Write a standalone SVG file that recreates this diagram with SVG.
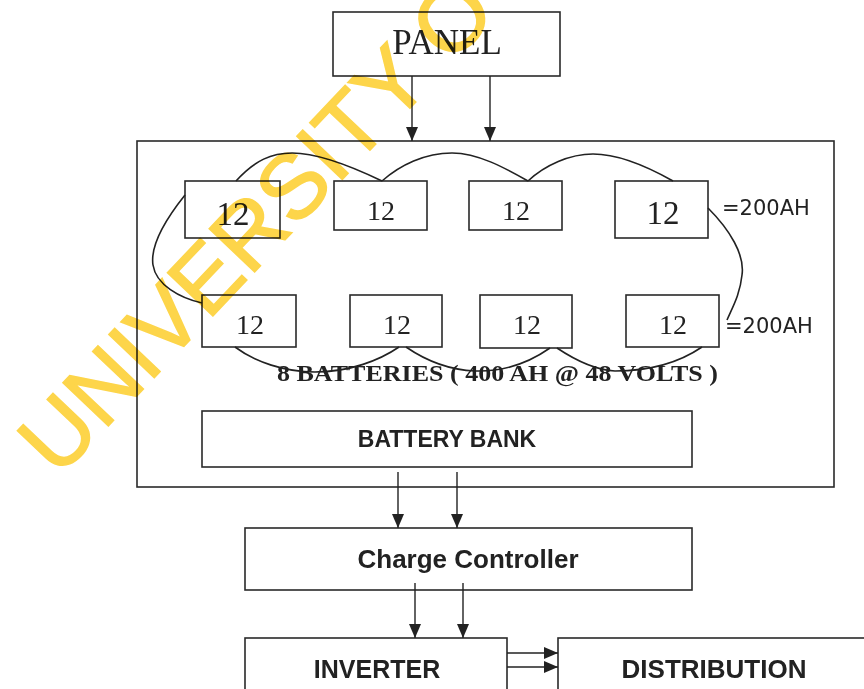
<svg xmlns="http://www.w3.org/2000/svg" width="864" height="689" viewBox="0 0 864 689">
<defs>
<style>
.box{fill:none;stroke:#2a2a2a;stroke-width:1.6}
.wire{fill:none;stroke:#222;stroke-width:1.6}
.arr{stroke:#222;stroke-width:1.4}
.serif{font-family:"Liberation Serif","Times New Roman",serif;fill:#222}
.sans{font-family:"Liberation Sans",Arial,sans-serif;font-weight:bold;fill:#222}
.ah{font-family:"DejaVu Sans",sans-serif;font-size:21px;fill:#222}
.num{font-size:28px;text-anchor:middle}
.big{font-size:33px}
.wm{font-family:"Liberation Sans",Arial,sans-serif;font-size:91px;fill:#FDD54A;stroke:#FDD54A;stroke-width:1.5;mix-blend-mode:multiply}
</style>
<marker id="head" markerUnits="userSpaceOnUse" markerWidth="14" markerHeight="12" refX="14" refY="6" orient="auto">
<path d="M0,0 L14,6 L0,12 z" fill="#222"/>
</marker>
</defs>
<rect width="864" height="689" fill="#fff"/>

<g id="panel">
<rect class="box" x="333" y="12" width="227" height="64"/>
<text class="serif" x="447" y="54" font-size="35" text-anchor="middle">PANEL</text>
</g>

<g id="battery-enclosure">
<rect class="box" x="137" y="141" width="697" height="346"/>
</g>

<g id="battery1"><rect class="box" x="185" y="181" width="95" height="57"/><text class="serif num big" x="233" y="225">12</text></g>
<g id="battery2"><rect class="box" x="334" y="181" width="93" height="49"/><text class="serif num" x="381" y="220">12</text></g>
<g id="battery3"><rect class="box" x="469" y="181" width="93" height="49"/><text class="serif num" x="516" y="220">12</text></g>
<g id="battery4"><rect class="box" x="615" y="181" width="93" height="57"/><text class="serif num big" x="663" y="224">12</text></g>
<g id="battery5"><rect class="box" x="202" y="295" width="94" height="52"/><text class="serif num" x="250" y="334">12</text></g>
<g id="battery6"><rect class="box" x="350" y="295" width="92" height="52"/><text class="serif num" x="397" y="334">12</text></g>
<g id="battery7"><rect class="box" x="480" y="295" width="92" height="53"/><text class="serif num" x="527" y="334">12</text></g>
<g id="battery8"><rect class="box" x="626" y="295" width="93" height="52"/><text class="serif num" x="673" y="334">12</text></g>

<g id="labels">
<text class="ah" x="722" y="215">=200AH</text>
<text class="ah" x="725" y="333">=200AH</text>
<text class="serif" x="277" y="381" font-size="24" font-weight="bold" textLength="441" lengthAdjust="spacingAndGlyphs">8 BATTERIES ( 400 AH @ 48 VOLTS )</text>
</g>

<g id="battery-bank">
<rect class="box" x="202" y="411" width="490" height="56"/>
<text class="sans" x="447" y="447" font-size="23" text-anchor="middle">BATTERY BANK</text>
</g>

<g id="charge-controller">
<rect class="box" x="245" y="528" width="447" height="62"/>
<text class="sans" x="468" y="568" font-size="26" text-anchor="middle">Charge Controller</text>
</g>

<g id="inverter">
<rect class="box" x="245" y="638" width="262" height="60"/>
<text class="sans" x="377" y="678" font-size="25" text-anchor="middle">INVERTER</text>
</g>

<g id="distribution">
<rect class="box" x="558" y="638" width="320" height="60"/>
<text class="sans" x="714" y="678" font-size="26" text-anchor="middle">DISTRIBUTION</text>
</g>

<g id="connectors">
<path class="wire" d="M236,181 C255,160 272,153 292,153 C320,153 355,168 382,181"/>
<path class="wire" d="M382,181 C400,165 425,153 452,153 C478,153 505,168 528,181"/>
<path class="wire" d="M528,181 C545,165 570,154 593,154 C620,154 650,168 673,181"/>
<path class="wire" d="M185,195 C165,220 150,245 153,265 C156,285 180,298 202,303"/>
<path class="wire" d="M708,208 C730,230 745,255 742,275 C740,295 732,308 727,320"/>
<path class="wire" d="M235,347 C255,362 285,372 315,372 C350,372 380,360 399,347"/>
<path class="wire" d="M406,347 C425,360 450,370 475,371 C505,372 530,362 550,348"/>
<path class="wire" d="M557,348 C575,360 595,370 615,371 C650,371 680,362 702,347"/>
<line class="arr" x1="412" y1="76" x2="412" y2="141" marker-end="url(#head)"/>
<line class="arr" x1="490" y1="76" x2="490" y2="141" marker-end="url(#head)"/>
<line class="arr" x1="398" y1="472" x2="398" y2="528" marker-end="url(#head)"/>
<line class="arr" x1="457" y1="472" x2="457" y2="528" marker-end="url(#head)"/>
<line class="arr" x1="415" y1="583" x2="415" y2="638" marker-end="url(#head)"/>
<line class="arr" x1="463" y1="583" x2="463" y2="638" marker-end="url(#head)"/>
<line class="arr" x1="507" y1="653" x2="558" y2="653" marker-end="url(#head)"/>
<line class="arr" x1="507" y1="667" x2="558" y2="667" marker-end="url(#head)"/>
</g>

<g id="watermark">
<text class="wm" transform="translate(58,479) rotate(-46.5)">UNIVERSITY O</text>
</g>
</svg>
